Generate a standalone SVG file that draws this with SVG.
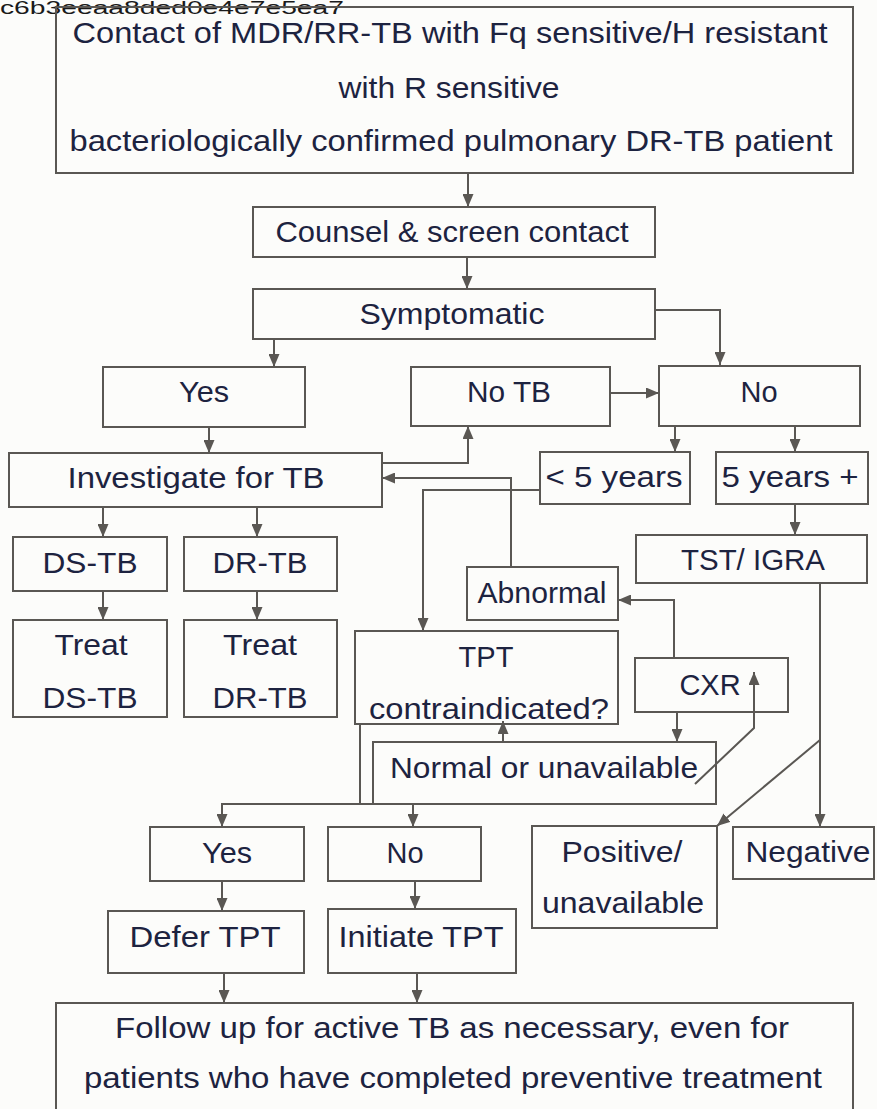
<svg xmlns="http://www.w3.org/2000/svg" width="877" height="1109" viewBox="0 0 877 1109">
  <style>
    .box { fill: none; stroke: #5a5753; stroke-width: 2; }
    .wire { fill: none; stroke: #5a5753; stroke-width: 2; }
    .arrow { marker-end: url(#head); }
    .t { font-family: "Liberation Sans", Arial, sans-serif; font-size: 29px; fill: #1d2340; text-anchor: middle; dominant-baseline: central; }
    .stamp { font-family: "Liberation Sans", Arial, sans-serif; font-size: 18px; fill: #1a1a1a; }
  </style>
  <defs>
    <marker id="head" markerUnits="userSpaceOnUse" markerWidth="13" markerHeight="11" viewBox="0 0 13 11" refX="13" refY="5.5" orient="auto">
      <path d="M0,0 L13,5.5 L0,11 z" fill="#5a5753"/>
    </marker>
  </defs>

  <rect width="877" height="1109" fill="#fcfcfa"/>

  <!-- reference code printed across the top edge -->
  <text class="stamp" x="0" y="14" textLength="344" lengthAdjust="spacingAndGlyphs">c6b3eeaa8ded0e4e7e5ea7</text>

  <!-- connectors -->
  <g id="connectors">
    <path class="wire arrow" d="M468,173 V207"/>
    <path class="wire arrow" d="M467,257 V289"/>
    <path class="wire arrow" d="M655,310 H720 V365"/>
    <path class="wire arrow" d="M274,339 V367"/>
    <path class="wire arrow" d="M611,393 H659"/>
    <path class="wire arrow" d="M209,427 V453"/>
    <path class="wire arrow" d="M382,463 H468 V426"/>
    <path class="wire arrow" d="M511,567 V478 H382"/>
    <path class="wire arrow" d="M540,490 H423 V631"/>
    <path class="wire arrow" d="M675,426 V452"/>
    <path class="wire arrow" d="M795,426 V452"/>
    <path class="wire arrow" d="M103,507 V537"/>
    <path class="wire arrow" d="M257,507 V537"/>
    <path class="wire arrow" d="M103,591 V620"/>
    <path class="wire arrow" d="M257,591 V620"/>
    <path class="wire arrow" d="M795,504 V535"/>
    <path class="wire arrow" d="M674,658 V600 H618"/>
    <path class="wire arrow" d="M677,712 V742"/>
    <path class="wire arrow" d="M695,784 L754,728 V672"/>
    <path class="wire arrow" d="M503,742 V721"/>
    <path class="wire arrow" d="M820,583 V827"/>
    <path class="wire arrow" d="M820,740 L717,826"/>
    <path class="wire" d="M360,724 V804"/>
    <path class="wire arrow" d="M373,804 H222 V827"/>
    <path class="wire arrow" d="M413,804 V827"/>
    <path class="wire arrow" d="M222,881 V911"/>
    <path class="wire arrow" d="M415,881 V909"/>
    <path class="wire arrow" d="M224,973 V1003"/>
    <path class="wire arrow" d="M417,973 V1003"/>
  </g>

  <g id="contact">
    <rect class="box" x="56" y="7" width="797" height="166"/>
    <text class="t" x="450" y="33" textLength="755" lengthAdjust="spacingAndGlyphs">Contact of MDR/RR-TB with Fq sensitive/H resistant</text>
    <text class="t" x="449" y="88" textLength="221" lengthAdjust="spacingAndGlyphs">with R sensitive</text>
    <text class="t" x="451" y="141" textLength="763" lengthAdjust="spacingAndGlyphs">bacteriologically confirmed pulmonary DR-TB patient</text>
  </g>

  <g id="counsel">
    <rect class="box" x="253" y="207" width="402" height="50"/>
    <text class="t" x="452" y="232" textLength="353" lengthAdjust="spacingAndGlyphs">Counsel &amp; screen contact</text>
  </g>

  <g id="symptomatic">
    <rect class="box" x="253" y="289" width="402" height="50"/>
    <text class="t" x="452" y="314" textLength="185" lengthAdjust="spacingAndGlyphs">Symptomatic</text>
  </g>

  <g id="yes-symptoms">
    <rect class="box" x="103" y="367" width="202" height="60"/>
    <text class="t" x="204" y="392" textLength="50" lengthAdjust="spacingAndGlyphs">Yes</text>
  </g>

  <g id="no-tb">
    <rect class="box" x="411" y="367" width="199" height="59"/>
    <text class="t" x="509" y="392" textLength="84" lengthAdjust="spacingAndGlyphs">No TB</text>
  </g>

  <g id="no-symptoms">
    <rect class="box" x="659" y="366" width="201" height="60"/>
    <text class="t" x="759" y="392">No</text>
  </g>

  <g id="investigate">
    <rect class="box" x="9" y="453" width="373" height="54"/>
    <text class="t" x="196" y="478" textLength="257" lengthAdjust="spacingAndGlyphs">Investigate for TB</text>
  </g>

  <g id="under-five">
    <rect class="box" x="540" y="452" width="150" height="52"/>
    <text class="t" x="614" y="477" textLength="137" lengthAdjust="spacingAndGlyphs">&lt; 5 years</text>
  </g>

  <g id="five-plus">
    <rect class="box" x="716" y="452" width="152" height="52"/>
    <text class="t" x="790" y="477" textLength="137" lengthAdjust="spacingAndGlyphs">5 years +</text>
  </g>

  <g id="ds-tb">
    <rect class="box" x="13" y="537" width="154" height="54"/>
    <text class="t" x="90" y="563" textLength="95" lengthAdjust="spacingAndGlyphs">DS-TB</text>
  </g>

  <g id="dr-tb">
    <rect class="box" x="184" y="537" width="153" height="54"/>
    <text class="t" x="260" y="563" textLength="95" lengthAdjust="spacingAndGlyphs">DR-TB</text>
  </g>

  <g id="treat-ds">
    <rect class="box" x="13" y="620" width="154" height="97"/>
    <text class="t" x="91" y="645" textLength="73" lengthAdjust="spacingAndGlyphs">Treat</text>
    <text class="t" x="90" y="698" textLength="95" lengthAdjust="spacingAndGlyphs">DS-TB</text>
  </g>

  <g id="treat-dr">
    <rect class="box" x="184" y="620" width="153" height="97"/>
    <text class="t" x="260" y="645" textLength="74" lengthAdjust="spacingAndGlyphs">Treat</text>
    <text class="t" x="260" y="698" textLength="95" lengthAdjust="spacingAndGlyphs">DR-TB</text>
  </g>

  <g id="tst-igra">
    <rect class="box" x="636" y="535" width="231" height="48"/>
    <text class="t" x="753" y="560" textLength="144" lengthAdjust="spacingAndGlyphs">TST/ IGRA</text>
  </g>

  <g id="abnormal">
    <rect class="box" x="467" y="567" width="151" height="53"/>
    <text class="t" x="542" y="593" textLength="129" lengthAdjust="spacingAndGlyphs">Abnormal</text>
  </g>

  <g id="tpt-question">
    <rect class="box" x="355" y="631" width="263" height="93"/>
    <text class="t" x="486" y="657">TPT</text>
    <text class="t" x="489" y="709" textLength="240" lengthAdjust="spacingAndGlyphs">contraindicated?</text>
  </g>

  <g id="cxr">
    <rect class="box" x="635" y="658" width="153" height="54"/>
    <text class="t" x="710" y="685">CXR</text>
  </g>

  <g id="normal">
    <rect class="box" x="373" y="742" width="343" height="62"/>
    <text class="t" x="544" y="768" textLength="308" lengthAdjust="spacingAndGlyphs">Normal or unavailable</text>
  </g>

  <g id="positive">
    <rect class="box" x="532" y="826" width="185" height="102"/>
    <text class="t" x="622" y="852" textLength="121" lengthAdjust="spacingAndGlyphs">Positive/</text>
    <text class="t" x="623" y="903" textLength="162" lengthAdjust="spacingAndGlyphs">unavailable</text>
  </g>

  <g id="negative">
    <rect class="box" x="733" y="827" width="141" height="52"/>
    <text class="t" x="808" y="852" textLength="125" lengthAdjust="spacingAndGlyphs">Negative</text>
  </g>

  <g id="yes-contra">
    <rect class="box" x="150" y="827" width="154" height="54"/>
    <text class="t" x="227" y="853" textLength="50" lengthAdjust="spacingAndGlyphs">Yes</text>
  </g>

  <g id="no-contra">
    <rect class="box" x="328" y="827" width="153" height="54"/>
    <text class="t" x="405" y="853">No</text>
  </g>

  <g id="defer">
    <rect class="box" x="108" y="911" width="196" height="62"/>
    <text class="t" x="205" y="937" textLength="151" lengthAdjust="spacingAndGlyphs">Defer TPT</text>
  </g>

  <g id="initiate">
    <rect class="box" x="328" y="909" width="188" height="64"/>
    <text class="t" x="421" y="937" textLength="165" lengthAdjust="spacingAndGlyphs">Initiate TPT</text>
  </g>

  <g id="follow-up">
    <rect class="box" x="56" y="1003" width="797" height="120"/>
    <text class="t" x="452" y="1028" textLength="674" lengthAdjust="spacingAndGlyphs">Follow up for active TB as necessary, even for</text>
    <text class="t" x="453" y="1078" textLength="738" lengthAdjust="spacingAndGlyphs">patients who have completed preventive treatment</text>
  </g>
</svg>
